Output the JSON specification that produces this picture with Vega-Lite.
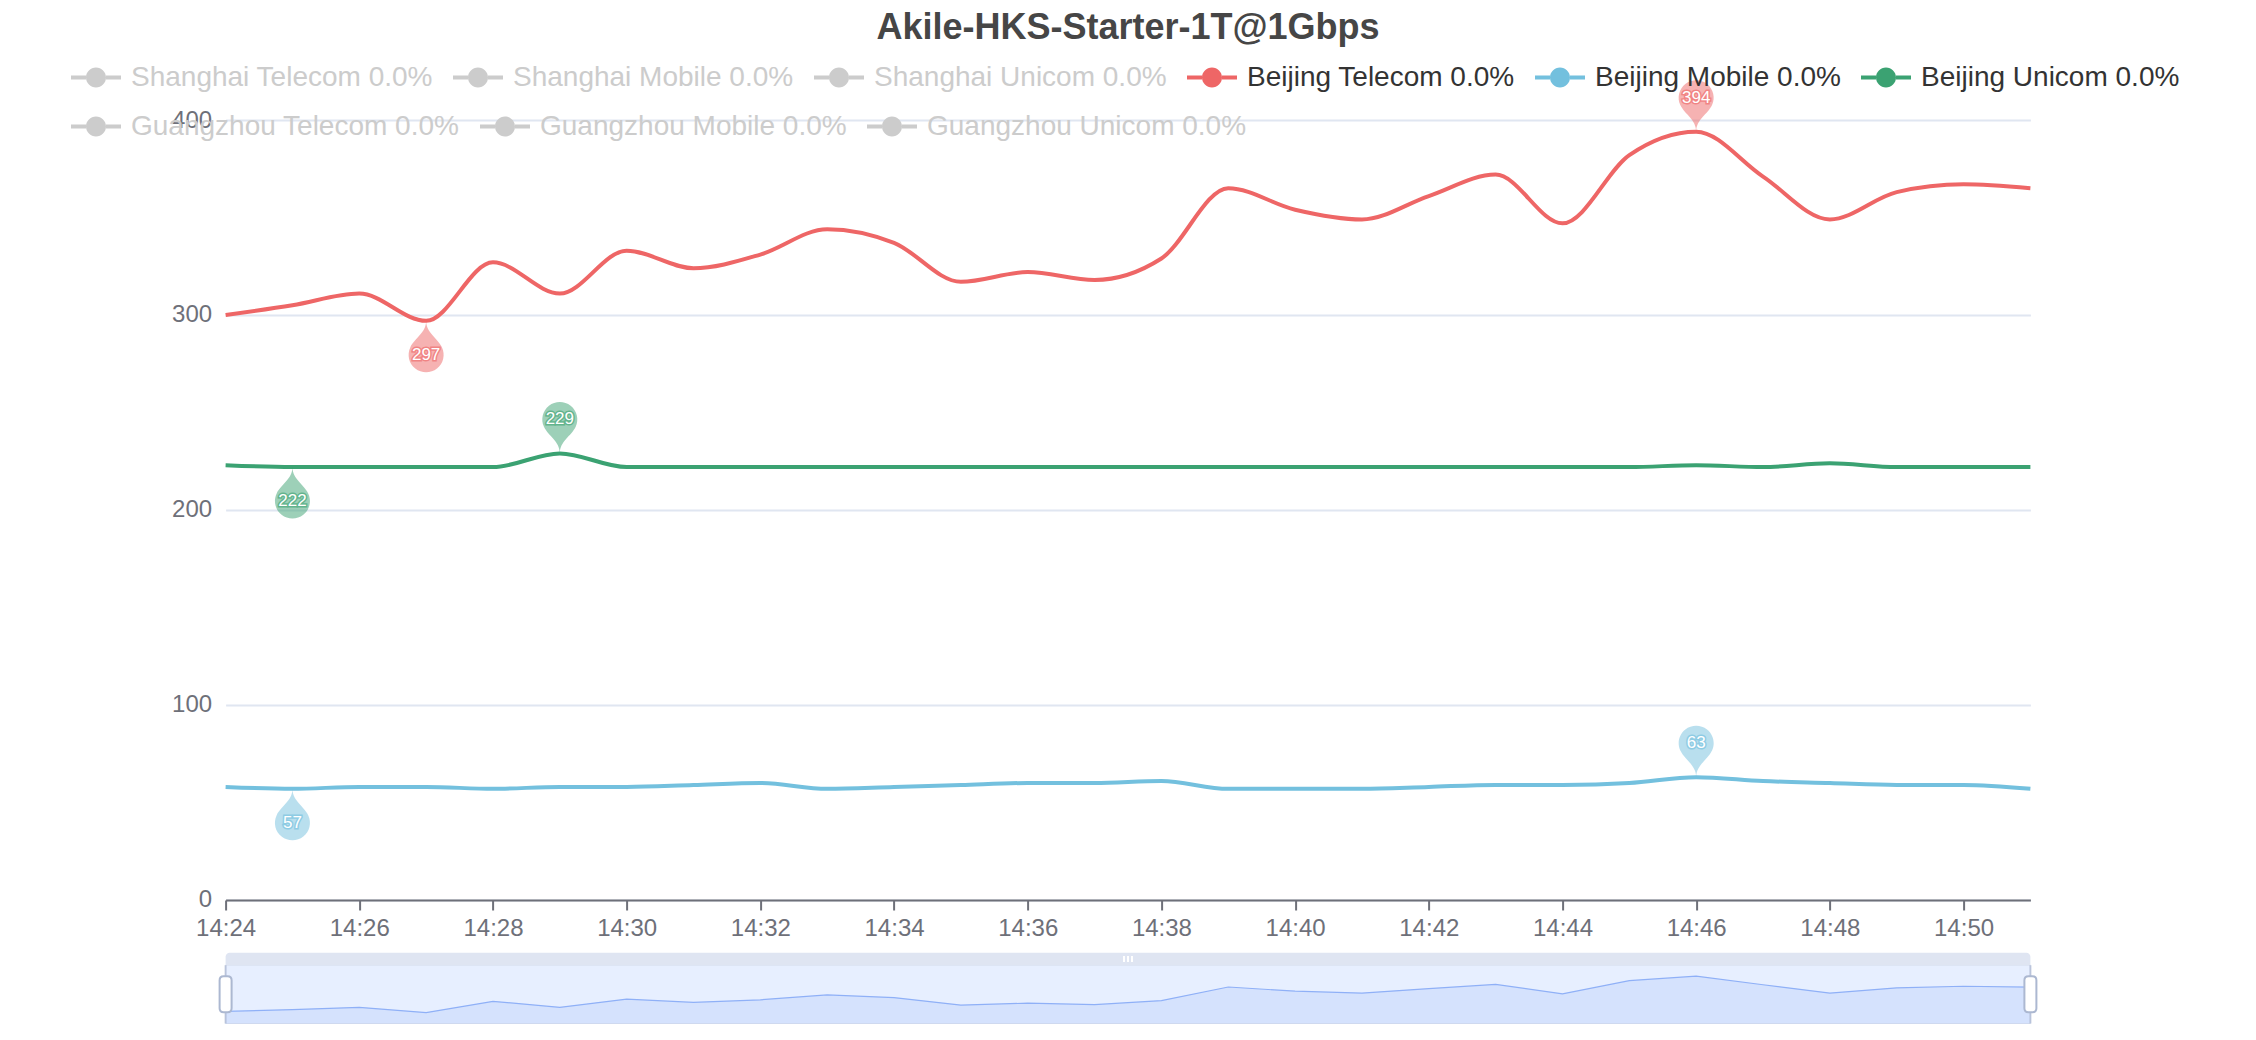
{
  "$schema": "https://vega.github.io/schema/vega-lite/v6.json",
  "background": "white",
  "autosize": {"type": "none"},
  "padding": {"left": 225.6, "top": 120, "right": 225.6, "bottom": 16},
  "width": 1804.8,
  "height": 904,
  "title": {"text": "Akile-HKS-Starter-1T@1Gbps", "fontSize": 36, "fontWeight": "bold", "color": "#464646", "font": "Liberation Sans", "anchor": "middle", "offset": 6},
  "config": {
    "font": "Liberation Sans",
    "view": {"stroke": null},
    "axisX": {"domainColor": "#6E7079", "domainWidth": 2, "tickColor": "#6E7079", "tickWidth": 2, "tickSize": 10, "labelColor": "#6E7079", "labelFontSize": 24, "labelPadding": 6, "grid": false, "labelFlush": false},
    "axisY": {"domain": false, "ticks": false, "gridColor": "#E0E6F1", "gridWidth": 2, "labelColor": "#6E7079", "labelFontSize": 24, "labelPadding": 14}
  },
  "datasets": {
    "speed": [
      {"series": "Beijing Telecom", "time": "2024-01-01T14:24", "value": 300},
      {"series": "Beijing Telecom", "time": "2024-01-01T14:25", "value": 305},
      {"series": "Beijing Telecom", "time": "2024-01-01T14:26", "value": 311},
      {"series": "Beijing Telecom", "time": "2024-01-01T14:27", "value": 297},
      {"series": "Beijing Telecom", "time": "2024-01-01T14:28", "value": 327},
      {"series": "Beijing Telecom", "time": "2024-01-01T14:29", "value": 311},
      {"series": "Beijing Telecom", "time": "2024-01-01T14:30", "value": 333},
      {"series": "Beijing Telecom", "time": "2024-01-01T14:31", "value": 324},
      {"series": "Beijing Telecom", "time": "2024-01-01T14:32", "value": 331},
      {"series": "Beijing Telecom", "time": "2024-01-01T14:33", "value": 344},
      {"series": "Beijing Telecom", "time": "2024-01-01T14:34", "value": 337},
      {"series": "Beijing Telecom", "time": "2024-01-01T14:35", "value": 317},
      {"series": "Beijing Telecom", "time": "2024-01-01T14:36", "value": 322},
      {"series": "Beijing Telecom", "time": "2024-01-01T14:37", "value": 318},
      {"series": "Beijing Telecom", "time": "2024-01-01T14:38", "value": 329},
      {"series": "Beijing Telecom", "time": "2024-01-01T14:39", "value": 365},
      {"series": "Beijing Telecom", "time": "2024-01-01T14:40", "value": 354},
      {"series": "Beijing Telecom", "time": "2024-01-01T14:41", "value": 349},
      {"series": "Beijing Telecom", "time": "2024-01-01T14:42", "value": 361},
      {"series": "Beijing Telecom", "time": "2024-01-01T14:43", "value": 372},
      {"series": "Beijing Telecom", "time": "2024-01-01T14:44", "value": 347},
      {"series": "Beijing Telecom", "time": "2024-01-01T14:45", "value": 382},
      {"series": "Beijing Telecom", "time": "2024-01-01T14:46", "value": 394},
      {"series": "Beijing Telecom", "time": "2024-01-01T14:47", "value": 371},
      {"series": "Beijing Telecom", "time": "2024-01-01T14:48", "value": 349},
      {"series": "Beijing Telecom", "time": "2024-01-01T14:49", "value": 363},
      {"series": "Beijing Telecom", "time": "2024-01-01T14:50", "value": 367},
      {"series": "Beijing Telecom", "time": "2024-01-01T14:51", "value": 365},
      {"series": "Beijing Mobile", "time": "2024-01-01T14:24", "value": 58},
      {"series": "Beijing Mobile", "time": "2024-01-01T14:25", "value": 57},
      {"series": "Beijing Mobile", "time": "2024-01-01T14:26", "value": 58},
      {"series": "Beijing Mobile", "time": "2024-01-01T14:27", "value": 58},
      {"series": "Beijing Mobile", "time": "2024-01-01T14:28", "value": 57},
      {"series": "Beijing Mobile", "time": "2024-01-01T14:29", "value": 58},
      {"series": "Beijing Mobile", "time": "2024-01-01T14:30", "value": 58},
      {"series": "Beijing Mobile", "time": "2024-01-01T14:31", "value": 59},
      {"series": "Beijing Mobile", "time": "2024-01-01T14:32", "value": 60},
      {"series": "Beijing Mobile", "time": "2024-01-01T14:33", "value": 57},
      {"series": "Beijing Mobile", "time": "2024-01-01T14:34", "value": 58},
      {"series": "Beijing Mobile", "time": "2024-01-01T14:35", "value": 59},
      {"series": "Beijing Mobile", "time": "2024-01-01T14:36", "value": 60},
      {"series": "Beijing Mobile", "time": "2024-01-01T14:37", "value": 60},
      {"series": "Beijing Mobile", "time": "2024-01-01T14:38", "value": 61},
      {"series": "Beijing Mobile", "time": "2024-01-01T14:39", "value": 57},
      {"series": "Beijing Mobile", "time": "2024-01-01T14:40", "value": 57},
      {"series": "Beijing Mobile", "time": "2024-01-01T14:41", "value": 57},
      {"series": "Beijing Mobile", "time": "2024-01-01T14:42", "value": 58},
      {"series": "Beijing Mobile", "time": "2024-01-01T14:43", "value": 59},
      {"series": "Beijing Mobile", "time": "2024-01-01T14:44", "value": 59},
      {"series": "Beijing Mobile", "time": "2024-01-01T14:45", "value": 60},
      {"series": "Beijing Mobile", "time": "2024-01-01T14:46", "value": 63},
      {"series": "Beijing Mobile", "time": "2024-01-01T14:47", "value": 61},
      {"series": "Beijing Mobile", "time": "2024-01-01T14:48", "value": 60},
      {"series": "Beijing Mobile", "time": "2024-01-01T14:49", "value": 59},
      {"series": "Beijing Mobile", "time": "2024-01-01T14:50", "value": 59},
      {"series": "Beijing Mobile", "time": "2024-01-01T14:51", "value": 57},
      {"series": "Beijing Unicom", "time": "2024-01-01T14:24", "value": 223},
      {"series": "Beijing Unicom", "time": "2024-01-01T14:25", "value": 222},
      {"series": "Beijing Unicom", "time": "2024-01-01T14:26", "value": 222},
      {"series": "Beijing Unicom", "time": "2024-01-01T14:27", "value": 222},
      {"series": "Beijing Unicom", "time": "2024-01-01T14:28", "value": 222},
      {"series": "Beijing Unicom", "time": "2024-01-01T14:29", "value": 229},
      {"series": "Beijing Unicom", "time": "2024-01-01T14:30", "value": 222},
      {"series": "Beijing Unicom", "time": "2024-01-01T14:31", "value": 222},
      {"series": "Beijing Unicom", "time": "2024-01-01T14:32", "value": 222},
      {"series": "Beijing Unicom", "time": "2024-01-01T14:33", "value": 222},
      {"series": "Beijing Unicom", "time": "2024-01-01T14:34", "value": 222},
      {"series": "Beijing Unicom", "time": "2024-01-01T14:35", "value": 222},
      {"series": "Beijing Unicom", "time": "2024-01-01T14:36", "value": 222},
      {"series": "Beijing Unicom", "time": "2024-01-01T14:37", "value": 222},
      {"series": "Beijing Unicom", "time": "2024-01-01T14:38", "value": 222},
      {"series": "Beijing Unicom", "time": "2024-01-01T14:39", "value": 222},
      {"series": "Beijing Unicom", "time": "2024-01-01T14:40", "value": 222},
      {"series": "Beijing Unicom", "time": "2024-01-01T14:41", "value": 222},
      {"series": "Beijing Unicom", "time": "2024-01-01T14:42", "value": 222},
      {"series": "Beijing Unicom", "time": "2024-01-01T14:43", "value": 222},
      {"series": "Beijing Unicom", "time": "2024-01-01T14:44", "value": 222},
      {"series": "Beijing Unicom", "time": "2024-01-01T14:45", "value": 222},
      {"series": "Beijing Unicom", "time": "2024-01-01T14:46", "value": 223},
      {"series": "Beijing Unicom", "time": "2024-01-01T14:47", "value": 222},
      {"series": "Beijing Unicom", "time": "2024-01-01T14:48", "value": 224},
      {"series": "Beijing Unicom", "time": "2024-01-01T14:49", "value": 222},
      {"series": "Beijing Unicom", "time": "2024-01-01T14:50", "value": 222},
      {"series": "Beijing Unicom", "time": "2024-01-01T14:51", "value": 222}
    ],
    "pins": [
      {"series": "Beijing Telecom", "time": "2024-01-01T14:46", "value": 394, "kind": "max"},
      {"series": "Beijing Telecom", "time": "2024-01-01T14:27", "value": 297, "kind": "min"},
      {"series": "Beijing Mobile", "time": "2024-01-01T14:46", "value": 63, "kind": "max"},
      {"series": "Beijing Mobile", "time": "2024-01-01T14:25", "value": 57, "kind": "min"},
      {"series": "Beijing Unicom", "time": "2024-01-01T14:29", "value": 229, "kind": "max"},
      {"series": "Beijing Unicom", "time": "2024-01-01T14:25", "value": 222, "kind": "min"}
    ],
    "hidden": [{"series": "Guangzhou Telecom"}, {"series": "Guangzhou Mobile"}, {"series": "Guangzhou Unicom"}],
    "zoomwin": [{"time": "2024-01-01T14:24", "time2": "2024-01-01T14:51"}],
    "handles": [{"time": "2024-01-01T14:24"}, {"time": "2024-01-01T14:51"}],
    "movehandle": [{"time": "2024-01-01T14:37:30"}]
  },
  "encoding": {
    "x": {"field": "time", "type": "temporal", "title": null,
      "scale": {"domain": [{"year": 2024, "month": 1, "date": 1, "hours": 14, "minutes": 24}, {"year": 2024, "month": 1, "date": 1, "hours": 14, "minutes": 51}]},
      "axis": {"format": "%H:%M", "offset": -124, "values": [
        {"year": 2024, "month": 1, "date": 1, "hours": 14, "minutes": 24},
        {"year": 2024, "month": 1, "date": 1, "hours": 14, "minutes": 26},
        {"year": 2024, "month": 1, "date": 1, "hours": 14, "minutes": 28},
        {"year": 2024, "month": 1, "date": 1, "hours": 14, "minutes": 30},
        {"year": 2024, "month": 1, "date": 1, "hours": 14, "minutes": 32},
        {"year": 2024, "month": 1, "date": 1, "hours": 14, "minutes": 34},
        {"year": 2024, "month": 1, "date": 1, "hours": 14, "minutes": 36},
        {"year": 2024, "month": 1, "date": 1, "hours": 14, "minutes": 38},
        {"year": 2024, "month": 1, "date": 1, "hours": 14, "minutes": 40},
        {"year": 2024, "month": 1, "date": 1, "hours": 14, "minutes": 42},
        {"year": 2024, "month": 1, "date": 1, "hours": 14, "minutes": 44},
        {"year": 2024, "month": 1, "date": 1, "hours": 14, "minutes": 46},
        {"year": 2024, "month": 1, "date": 1, "hours": 14, "minutes": 48},
        {"year": 2024, "month": 1, "date": 1, "hours": 14, "minutes": 50}]}}
  },
  "resolve": {"scale": {"y": "independent"}, "axis": {"y": "independent"}},
  "layer": [
    {
      "encoding": {
        "y": {"field": "value", "type": "quantitative", "title": null,
          "scale": {"domain": [-63.59, 400], "nice": false, "zero": false},
          "axis": {"values": [0, 100, 200, 300, 400]}},
        "color": {"field": "series", "type": "nominal",
          "scale": {
            "domain": ["Shanghai Telecom", "Shanghai Mobile", "Shanghai Unicom", "Beijing Telecom", "Beijing Mobile", "Beijing Unicom"],
            "range": ["#cccccc", "#cccccc", "#cccccc", "#ee6666", "#73c0de", "#3ba272"]
          },
          "legend": {
            "title": null, "orient": "none", "legendX": -154.6, "legendY": -67.4,
            "direction": "horizontal", "columns": 6,
            "columnPadding": 20, "rowPadding": 0, "padding": 0,
            "symbolType": "M-1,-0.08H-0.4V0.08H-1Z M0.4,-0.08H1V0.08H0.4Z M-0.4,0A0.4,0.4,0,1,1,0.4,0A0.4,0.4,0,1,1,-0.4,0Z",
            "symbolSize": 2500, "symbolStrokeWidth": 0, "symbolOpacity": 1,
            "labelFont": "Liberation Sans", "labelFontSize": 28, "labelOffset": 10, "labelLimit": 1000,
            "labelExpr": "datum.label + ' 0.0%'",
            "encode": {
              "symbols": {"update": {"fill": {"scale": "color", "field": "value"}, "stroke": {"value": "transparent"}, "opacity": {"value": 1}}},
              "labels": {"update": {"fill": {"signal": "indexof(['Beijing Telecom','Beijing Mobile','Beijing Unicom'], datum.value) >= 0 ? '#333333' : '#cccccc'"}}}
            }
          }
        }
      },
      "layer": [
        {"data": {"name": "speed"}, "mark": {"type": "line", "interpolate": "monotone", "strokeWidth": 4}, "encoding": {}},
        {"data": {"name": "pins"},
          "mark": {"type": "point", "filled": true, "opacity": 0.5, "size": 1225, "strokeWidth": 0},
          "encoding": {"shape": {"field": "kind", "type": "nominal", "legend": null,
            "scale": {"domain": ["max", "min"], "range": [
              "M-0.906,-1.52A1,1,0,1,1,0.906,-1.52C0.653,-0.976,0,-0.7,0,0C0,-0.7,-0.653,-0.976,-0.906,-1.52Z",
              "M-0.906,1.52A1,1,0,1,0,0.906,1.52C0.653,0.976,0,0.7,0,0C0,0.7,-0.653,0.976,-0.906,1.52Z"]}}}},
        {"data": {"name": "pins"}, "transform": [{"filter": "datum.kind === 'max'"}],
          "mark": {"type": "text", "dy": -34, "fontSize": 17, "strokeWidth": 3, "opacity": 0.6},
          "encoding": {"text": {"field": "value"}, "stroke": {"field": "series", "type": "nominal", "legend": null, "scale": {"domain": ["Beijing Telecom", "Beijing Mobile", "Beijing Unicom"], "range": ["#ee6666", "#73c0de", "#3ba272"]}}}},
        {"data": {"name": "pins"}, "transform": [{"filter": "datum.kind === 'max'"}],
          "mark": {"type": "text", "dy": -34, "fontSize": 17},
          "encoding": {"text": {"field": "value"}, "color": {"value": "white"}}},
        {"data": {"name": "pins"}, "transform": [{"filter": "datum.kind === 'min'"}],
          "mark": {"type": "text", "dy": 34, "fontSize": 17, "strokeWidth": 3, "opacity": 0.6},
          "encoding": {"text": {"field": "value"}, "stroke": {"field": "series", "type": "nominal", "legend": null, "scale": {"domain": ["Beijing Telecom", "Beijing Mobile", "Beijing Unicom"], "range": ["#ee6666", "#73c0de", "#3ba272"]}}}},
        {"data": {"name": "pins"}, "transform": [{"filter": "datum.kind === 'min'"}],
          "mark": {"type": "text", "dy": 34, "fontSize": 17},
          "encoding": {"text": {"field": "value"}, "color": {"value": "white"}}},
        {"data": {"name": "hidden"},
          "mark": {"type": "text", "text": ""},
          "encoding": {"color": {"value": "transparent"},
            "fill": {"field": "series", "type": "nominal",
              "scale": {"domain": ["Guangzhou Telecom", "Guangzhou Mobile", "Guangzhou Unicom"], "range": ["#cccccc", "#cccccc", "#cccccc"]},
              "legend": {
                "title": null, "orient": "none", "legendX": -154.6, "legendY": -18.5,
                "direction": "horizontal", "columns": 3,
                "columnPadding": 20, "rowPadding": 0, "padding": 0,
                "symbolType": "M-1,-0.08H-0.4V0.08H-1Z M0.4,-0.08H1V0.08H0.4Z M-0.4,0A0.4,0.4,0,1,1,0.4,0A0.4,0.4,0,1,1,-0.4,0Z",
                "symbolSize": 2500, "symbolStrokeWidth": 0, "symbolOpacity": 1,
                "labelFont": "Liberation Sans", "labelFontSize": 28, "labelOffset": 10, "labelLimit": 1000,
                "labelColor": "#cccccc",
                "labelExpr": "datum.label + ' 0.0%'",
                "encode": {
                  "symbols": {"update": {"fill": {"value": "#cccccc"}, "stroke": {"value": "transparent"}, "opacity": {"value": 1}}}
                }
              }}}}
      ]
    },
    {
      "layer": [
        {"data": {"name": "zoomwin"},
          "mark": {"type": "rect", "fill": "#e7efff", "stroke": "#d6deef", "strokeWidth": 1},
          "encoding": {"x2": {"field": "time2"},
            "y": {"datum": 267.9, "type": "quantitative", "axis": null, "scale": {"domain": [266.57, 2673.1], "nice": false, "zero": false}},
            "y2": {"datum": 423.1}}},
        {"data": {"name": "zoomwin"},
          "mark": {"type": "rect", "fill": "#dfe5f2", "cornerRadiusTopLeft": 4, "cornerRadiusTopRight": 4},
          "encoding": {"x2": {"field": "time2"},
            "y": {"datum": 423.1, "type": "quantitative", "axis": null, "scale": {"domain": [266.57, 2673.1], "nice": false, "zero": false}},
            "y2": {"datum": 456.38}}},
        {"data": {"name": "speed"}, "transform": [{"filter": "datum.series === 'Beijing Telecom'"}],
          "mark": {"type": "area", "color": "#8fb0f7", "opacity": 0.2},
          "encoding": {"y": {"field": "value", "type": "quantitative", "axis": null, "scale": {"domain": [266.57, 2673.1], "nice": false, "zero": false}}, "y2": {"datum": 267.9}}},
        {"data": {"name": "speed"}, "transform": [{"filter": "datum.series === 'Beijing Telecom'"}],
          "mark": {"type": "line", "color": "#8fb0f7", "strokeWidth": 1.2},
          "encoding": {"y": {"field": "value", "type": "quantitative", "axis": null, "scale": {"domain": [266.57, 2673.1], "nice": false, "zero": false}}}},
        {"data": {"name": "handles"},
          "mark": {"type": "rule", "color": "#acb8d1", "strokeWidth": 2, "opacity": 0.7},
          "encoding": {"y": {"datum": 267.9, "type": "quantitative", "axis": null, "scale": {"domain": [266.57, 2673.1], "nice": false, "zero": false}}, "y2": {"datum": 423.1}}},
        {"data": {"name": "handles"},
          "mark": {"type": "point", "shape": "M-0.333,-0.778Q-0.333,-1,-0.111,-1L0.111,-1Q0.333,-1,0.333,-0.778L0.333,0.778Q0.333,1,0.111,1L-0.111,1Q-0.333,1,-0.333,0.778Z", "size": 1296, "filled": true, "fill": "white", "stroke": "#acb8d1", "strokeWidth": 2, "opacity": 1},
          "encoding": {"y": {"datum": 345.5, "type": "quantitative", "axis": null, "scale": {"domain": [266.57, 2673.1], "nice": false, "zero": false}}}},
        {"data": {"name": "movehandle"},
          "mark": {"type": "point", "shape": "M-1.667,-1H-1V1H-1.667Z M-0.333,-1H0.333V1H-0.333Z M1,-1H1.667V1H1Z", "size": 36, "filled": true, "color": "white", "opacity": 1, "strokeWidth": 0},
          "encoding": {"y": {"datum": 439.74, "type": "quantitative", "axis": null, "scale": {"domain": [266.57, 2673.1], "nice": false, "zero": false}}}}
      ]
    }
  ]
}
